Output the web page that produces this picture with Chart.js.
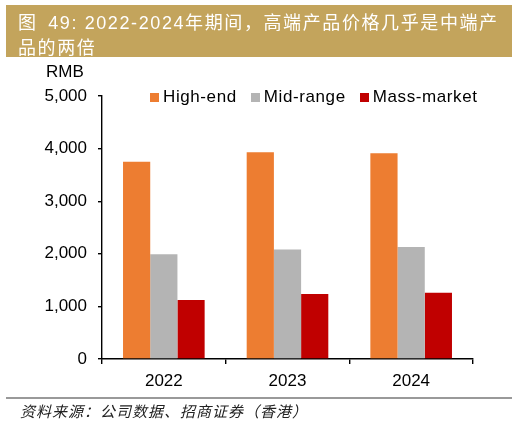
<!DOCTYPE html>
<html>
<head>
<meta charset="utf-8">
<script src="https://cdn.jsdelivr.net/npm/chart.js@4"></script>
<style>
  html, body { margin: 0; padding: 0; background: #fff; }
  #wrap { position: relative; width: 517px; height: 422px; overflow: hidden; font-family: "Liberation Sans", Arial, sans-serif; }
  #chart { position: absolute; left: 0; top: 0; }
  #title {
    position: absolute; left: 6px; top: 5px; width: 506px; height: 52px;
    background: #C3A45C; color: #fff; box-sizing: border-box; padding: 6px 0 0 12px;
    font-family: "Liberation Sans", "Noto Sans CJK SC", sans-serif; font-size: 18px; line-height: 25px;
    letter-spacing: 1.6px; white-space: nowrap;
  }
  #title .gap { margin-left: 4px; }
  #unit { position: absolute; left: 46px; top: 62px; font-size: 17px; color: #000; }
  #legend { position: absolute; left: 150px; top: 87px; display: flex; font-size: 17px; color: #000; letter-spacing: 0.6px; }
  #legend span.item { display: flex; align-items: center; margin-right: 14px; }
  #legend i { display: inline-block; width: 9px; height: 9px; margin-right: 4px; }
  #rule { position: absolute; left: 6px; top: 397px; width: 506px; height: 2px; background: #999; }
  #source {
    position: absolute; left: 20px; top: 400px; font-size: 15px; color: #222; font-style: italic;
    font-family: "Noto Sans CJK SC", sans-serif; letter-spacing: 1px;
  }
</style>
</head>
<body>
<div id="wrap">
  <canvas id="chart" width="517" height="422"></canvas>
  <div id="title">图 <span class="gap">49: 2022-2024</span>年期间，高端产品价格几乎是中端产<br>品的两倍</div>
  <div id="unit">RMB</div>
  <div id="legend"></div>
  <div id="rule"></div>
  <div id="source">资料来源：公司数据、招商证券（香港）</div>
</div>
<script>
// ---------- data ----------
const years      = ["2022", "2023", "2024"];
const seriesName = ["High-end", "Mid-range", "Mass-market"];
const highEnd    = [3750, 3930, 3910];
const midRange   = [1990, 2080, 2130];
const massMarket = [1120, 1235, 1260];
const yTicks     = [0, 1000, 2000, 3000, 4000, 5000];

const COLORS = ["#ED7D31", "#B4B4B4", "#C00000"];
const values = [highEnd, midRange, massMarket];

// ---------- legend ----------
document.getElementById("legend").innerHTML = seriesName.map((n, i) =>
  `<span class="item"><i style="background:${COLORS[i]}"></i>${n}</span>`
).join("");

// ---------- chart ----------
Chart.defaults.font.family = "'Liberation Sans', Arial, sans-serif";
Chart.defaults.font.size = 17;
Chart.defaults.color = "#000";

new Chart(document.getElementById("chart"), {
  type: "bar",
  data: {
    labels: years,
    datasets: seriesName.map((n, i) => ({
      label: n,
      data: values[i],
      backgroundColor: COLORS[i],
      borderWidth: 0,
      categoryPercentage: 0.66,
      barPercentage: 1.0,
    })),
  },
  options: {
    responsive: false,
    animation: false,
    layout: { padding: { top: 96, right: 44, bottom: 0, left: 0 } },
    plugins: { legend: { display: false }, tooltip: { enabled: false } },
    scales: {
      x: {
        offset: true,
        border: { color: "#000", width: 1.4 },
        grid: { offset: true, drawOnChartArea: false, tickLength: 5, color: "#000", lineWidth: 1.4 },
        ticks: { padding: 7 },
        afterFit: (s) => { s.height = 63; },
      },
      y: {
        min: 0,
        max: 5000,
        border: { color: "#000", width: 1.4 },
        grid: { drawOnChartArea: false, tickLength: 4, color: "#000", lineWidth: 1.4 },
        afterBuildTicks: (s) => { s.ticks = yTicks.map((v) => ({ value: v })); },
        ticks: {
          padding: 11,
          callback: (v) => v.toLocaleString("en-US"),
        },
        afterFit: (s) => { s.width = 102; },
      },
    },
  },
});
</script>
</body>
</html>
